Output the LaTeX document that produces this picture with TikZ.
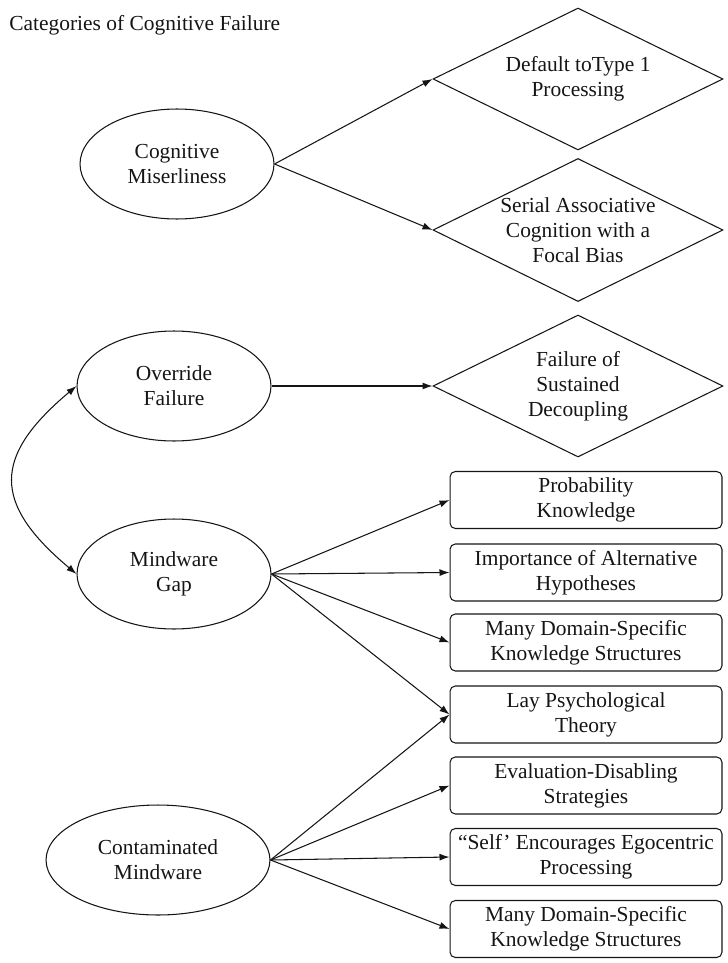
\documentclass[tikz,border=0pt]{standalone}
\usepackage{fontspec}
\setmainfont{Liberation Serif}
\usetikzlibrary{arrows.meta,shapes.geometric}
\definecolor{ink}{HTML}{151515}
\tikzset{
  >={Latex[length=2mm,width=1.4mm]},
  cat/.style={ellipse, draw=ink, line width=0.6pt, minimum width=3.88cm, minimum height=2.2cm,
              inner sep=0pt, align=center},
  proc/.style={diamond, shape aspect=2, draw=ink, line width=0.6pt, minimum width=5.8cm,
               minimum height=2.84cm, inner sep=0pt, align=center},
  know/.style={rectangle, rounded corners=3pt, draw=ink, line width=0.6pt, minimum width=5.44cm,
               minimum height=1.14cm, inner sep=0pt, align=center},
  link/.style={->, ink, line width=0.6pt},
}

\begin{document}
\begin{tikzpicture}[x=0.02cm, y=0.02cm, font=\fontsize{12.2}{14.3}\selectfont, text=ink]
\useasboundingbox (0,0) rectangle (727,-963);

\node[anchor=west, inner sep=0pt] (title) at (9,-25) {Categories of Cognitive Failure};

% categories
\node[cat] (miser) at (177,-164) {Cognitive\\Miserliness};
\node[cat] (ovr) at (174,-386) {Override\\Failure};
\node[cat] (gap) at (174,-574) {Mindware\\Gap};
\node[cat, minimum width=4.48cm] (cont) at (158,-860) {Contaminated\\Mindware};

% processing failures
\node[proc] (dflt) at (578,-79) {Default toType 1\\Processing};
\node[proc] (serial) at (578,-230) {Serial Associative\\Cognition with a\\Focal Bias};
\node[proc] (decoup) at (578,-386) {Failure of\\Sustained\\Decoupling};

% mindware
\foreach \n/\y/\txt in {prob/500/{Probability\\Knowledge},
                        alt/572.5/{Importance of Alternative\\Hypotheses},
                        dom/642.5/{Many Domain-Specific\\Knowledge Structures},
                        lay/714.5/{Lay Psychological\\Theory},
                        evald/785.5/{Evaluation-Disabling\\Strategies},
                        self/857/{“Self’ Encourages Egocentric\\Processing},
                        domb/929/{Many Domain-Specific\\Knowledge Structures}} {
  \node[know] (\n) at (586,-\y) {\txt};
}

\draw[link] (miser.east) -- (dflt.west);
\draw[link] (miser.east) -- (serial.west);
\draw[link] (ovr.east) -- (decoup.west);
\draw[link, <->] (ovr.west) .. controls +(220:110) and +(140:110) .. (gap.west);

\foreach \t in {prob,alt,dom,lay}
  \draw[link] (gap.east) -- (\t.west);
\foreach \t in {lay,evald,self,domb}
  \draw[link] (cont.east) -- (\t.west);

\end{tikzpicture}
\end{document}
